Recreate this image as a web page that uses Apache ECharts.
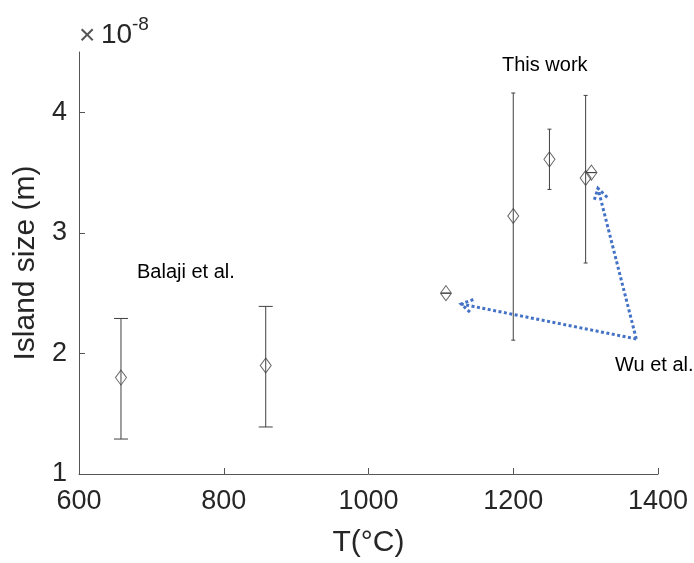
<!DOCTYPE html>
<html>
<head>
<meta charset="utf-8">
<script src="https://cdn.jsdelivr.net/npm/echarts@6/dist/echarts.min.js"></script>
<style>
  html, body { margin: 0; padding: 0; background: #fff; }
  #chart { width: 694px; height: 563px; }
</style>
</head>
<body>
<div id="chart"></div>
<script>
// island size values are in units of 1e-8 m
const xTicks = [600, 800, 1000, 1200, 1400];
const yTicks = [1, 2, 3, 4];

const balajiT = [658, 858];
const balajiSize = [1.80, 1.90];
const balajiLow = [1.29, 1.39];
const balajiHigh = [2.29, 2.39];

const thisT = [1200, 1250, 1300];
const thisSize = [3.14, 3.61, 3.455];
const thisLow = [2.11, 3.36, 2.75];
const thisHigh = [4.16, 3.86, 4.14];

const wuT = [1107, 1308];
const wuSize = [2.50, 3.50];

// dotted arrows from the "Wu et al." label to its points
const arrowFrom = [1370, 2.12];
const arrowTo = [[1128, 2.41], [1317, 3.37]];

const font = 'Liberation Sans, Arial, Helvetica, sans-serif';
const ink = '#262626';
const markerColor = '#404040';

const chart = echarts.init(document.getElementById('chart'));

// vertical error bar with caps; capHalf is the half width of a cap in px
function errorBars(capHalf) {
  return function (params, api) {
    const top = api.coord([api.value(0), api.value(2)]);
    const bot = api.coord([api.value(0), api.value(1)]);
    const style = { stroke: markerColor, lineWidth: 1 };
    return {
      type: 'group',
      children: [
        { type: 'line', shape: { x1: top[0], y1: top[1], x2: bot[0], y2: bot[1] }, style: style },
        { type: 'line', shape: { x1: top[0] - capHalf, y1: top[1], x2: top[0] + capHalf, y2: top[1] }, style: style },
        { type: 'line', shape: { x1: bot[0] - capHalf, y1: bot[1], x2: bot[0] + capHalf, y2: bot[1] }, style: style }
      ]
    };
  };
}

function arrowItem(params, api) {
  const p0 = api.coord([api.value(0), api.value(1)]);
  const p1 = api.coord([api.value(2), api.value(3)]);
  const ang = Math.atan2(p1[1] - p0[1], p1[0] - p0[0]);
  const len = 13, spread = 0.55;
  const a1 = [p1[0] - len * Math.cos(ang - spread), p1[1] - len * Math.sin(ang - spread)];
  const a2 = [p1[0] - len * Math.cos(ang + spread), p1[1] - len * Math.sin(ang + spread)];
  const style = { stroke: '#4472C4', lineWidth: 3, lineDash: [3, 2.5], fill: null };
  return {
    type: 'group',
    children: [
      { type: 'line', shape: { x1: p0[0], y1: p0[1], x2: p1[0], y2: p1[1] }, style: style },
      { type: 'polyline', shape: { points: [a1, p1, a2] }, style: style }
    ]
  };
}

const diamond = {
  type: 'scatter',
  symbol: 'diamond',
  symbolSize: [11, 15],
  itemStyle: { color: 'rgba(255,255,255,0)', borderColor: markerColor, borderWidth: 1 },
  z: 5
};

const option = {
  animation: false,
  backgroundColor: '#fff',
  grid: { left: 79, right: 36, top: 52, bottom: 85 },
  xAxis: {
    type: 'value',
    min: 600,
    max: 1400,
    interval: 200,
    name: 'T(°C)',
    nameLocation: 'middle',
    nameGap: 54,
    nameTextStyle: { fontFamily: font, fontSize: 30, color: ink },
    axisLine: { lineStyle: { color: '#555', width: 1 } },
    axisTick: { inside: true, length: 6, lineStyle: { color: '#555' }, customValues: xTicks },
    axisLabel: { fontFamily: font, fontSize: 27, color: ink, margin: 14, customValues: xTicks, formatter: v => String(v) },
    splitLine: { show: false }
  },
  yAxis: {
    type: 'value',
    min: 1,
    max: 4.5,
    interval: 1,
    name: 'Island size (m)',
    nameLocation: 'middle',
    nameGap: 36,
    nameTextStyle: { fontFamily: font, fontSize: 30, color: ink },
    axisLine: { show: true, lineStyle: { color: '#555', width: 1 } },
    axisTick: { show: true, inside: true, length: 6, lineStyle: { color: '#555' }, customValues: yTicks },
    axisLabel: { fontFamily: font, fontSize: 27, color: ink, margin: 12, customValues: yTicks },
    splitLine: { show: false }
  },
  graphic: [
    { type: 'text', left: 79, top: 22, style: { text: '×', fontFamily: font, fontSize: 28, fill: '#555' } },
    { type: 'text', left: 101, top: 21, style: { text: '10', fontFamily: font, fontSize: 28, fill: ink } },
    { type: 'text', left: 132, top: 15, style: { text: '-8', fontFamily: font, fontSize: 19, fill: ink } },
    { type: 'text', left: 502, top: 55, style: { text: 'This work', fontFamily: font, fontSize: 20, fill: '#000' } },
    { type: 'text', left: 137, top: 262, style: { text: 'Balaji et al.', fontFamily: font, fontSize: 20, fill: '#000' } },
    { type: 'text', left: 615, top: 355, style: { text: 'Wu et al.', fontFamily: font, fontSize: 20, fill: '#000' } }
  ],
  series: [
    {
      type: 'custom',
      renderItem: errorBars(7),
      data: balajiT.map((t, i) => [t, balajiLow[i], balajiHigh[i]])
    },
    {
      type: 'custom',
      renderItem: errorBars(2),
      data: thisT.map((t, i) => [t, thisLow[i], thisHigh[i]])
    },
    {
      type: 'custom',
      renderItem: errorBars(5),
      data: wuT.map((t, i) => [t, wuSize[i], wuSize[i]])
    },
    Object.assign({}, diamond, { data: balajiT.map((t, i) => [t, balajiSize[i]]) }),
    Object.assign({}, diamond, { data: thisT.map((t, i) => [t, thisSize[i]]) }),
    Object.assign({}, diamond, { data: wuT.map((t, i) => [t, wuSize[i]]) }),
    {
      type: 'custom',
      renderItem: arrowItem,
      z: 6,
      data: arrowTo.map(p => [arrowFrom[0], arrowFrom[1], p[0], p[1]])
    }
  ]
};

chart.setOption(option);
</script>
</body>
</html>
